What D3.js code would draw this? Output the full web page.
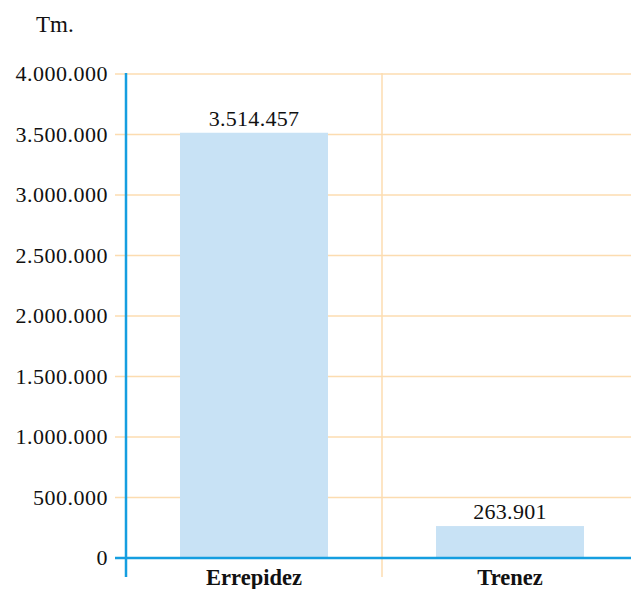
<!DOCTYPE html>
<html>
<head>
<meta charset="utf-8">
<script src="https://cdn.jsdelivr.net/npm/d3@7"></script>
<style>
  html, body { margin: 0; padding: 0; background: #fff; }
</style>
</head>
<body>
<svg id="chart" width="631" height="589"></svg>
<script>
// Tonnes transported by mode
const categories = ["Errepidez", "Trenez"];
const values = [3514457, 263901];
const yTicks = [0, 500000, 1000000, 1500000, 2000000, 2500000, 3000000, 3500000, 4000000];
const unitLabel = "Tm.";

(function () {
  const svg = d3.select("#chart")
    .attr("font-family", "'Liberation Serif', 'DejaVu Serif', serif")
    .style("font-family", "'Liberation Serif', 'DejaVu Serif', serif");
  const plotLeft = 126, plotRight = 638, plotTop = 74, plotBottom = 558;

  const fmt = v => d3.format(",")(v).replace(/,/g, ".");

  const x = d3.scaleBand().domain(categories).range([plotLeft, plotRight]).paddingInner(0).paddingOuter(0);
  const y = d3.scaleLinear().domain([0, 4000000]).range([plotBottom, plotTop]);

  // horizontal gridlines
  svg.append("g").selectAll("line").data(yTicks.filter(d => d > 0)).join("line")
    .attr("x1", 115).attr("x2", 631)
    .attr("y1", d => y(d)).attr("y2", d => y(d))
    .attr("stroke", "#fcdcb0").attr("stroke-width", 1.5);

  // vertical separator between categories
  svg.append("line")
    .attr("x1", x(categories[1])).attr("x2", x(categories[1]))
    .attr("y1", plotTop - 1).attr("y2", 577)
    .attr("stroke", "#fcdcb0").attr("stroke-width", 1.5);

  // bars
  const barW = 148;
  svg.append("g").selectAll("rect").data(categories).join("rect")
    .attr("x", d => x(d) + x.bandwidth() / 2 - barW / 2)
    .attr("width", barW)
    .attr("y", (d, i) => y(values[i]))
    .attr("height", (d, i) => y(0) - y(values[i]))
    .attr("fill", "#c8e2f5");

  // value labels
  svg.append("g").selectAll("text").data(categories).join("text")
    .attr("x", d => x(d) + x.bandwidth() / 2)
    .attr("y", (d, i) => y(values[i]) - 7)
    .attr("text-anchor", "middle")
    .attr("font-size", 22)
    .attr("fill", "#111")
    .attr("letter-spacing", 0.3)
    .text((d, i) => fmt(values[i]));

  // y tick labels
  svg.append("g").selectAll("text").data(yTicks).join("text")
    .attr("x", 108)
    .attr("y", d => y(d) + 7)
    .attr("text-anchor", "end")
    .attr("font-size", 22)
    .attr("fill", "#111")
    .attr("letter-spacing", 0.5)
    .text(d => fmt(d));

  // axis lines
  svg.append("line")
    .attr("x1", 115).attr("x2", 631).attr("y1", y(0)).attr("y2", y(0))
    .attr("stroke", "#159ee0").attr("stroke-width", 2.5);
  svg.append("line")
    .attr("x1", plotLeft).attr("x2", plotLeft).attr("y1", plotTop - 1).attr("y2", 577)
    .attr("stroke", "#159ee0").attr("stroke-width", 2.5);

  // category labels
  svg.append("g").selectAll("text").data(categories).join("text")
    .attr("x", d => x(d) + x.bandwidth() / 2)
    .attr("y", 585)
    .attr("text-anchor", "middle")
    .attr("font-size", 22.5)
    .attr("font-weight", "bold")
    .attr("fill", "#111")
    .text(d => d);

  // unit label
  svg.append("text")
    .attr("x", 36).attr("y", 32)
    .attr("font-size", 23)
    .attr("fill", "#111")
    .text(unitLabel);
})();
</script>
</body>
</html>
